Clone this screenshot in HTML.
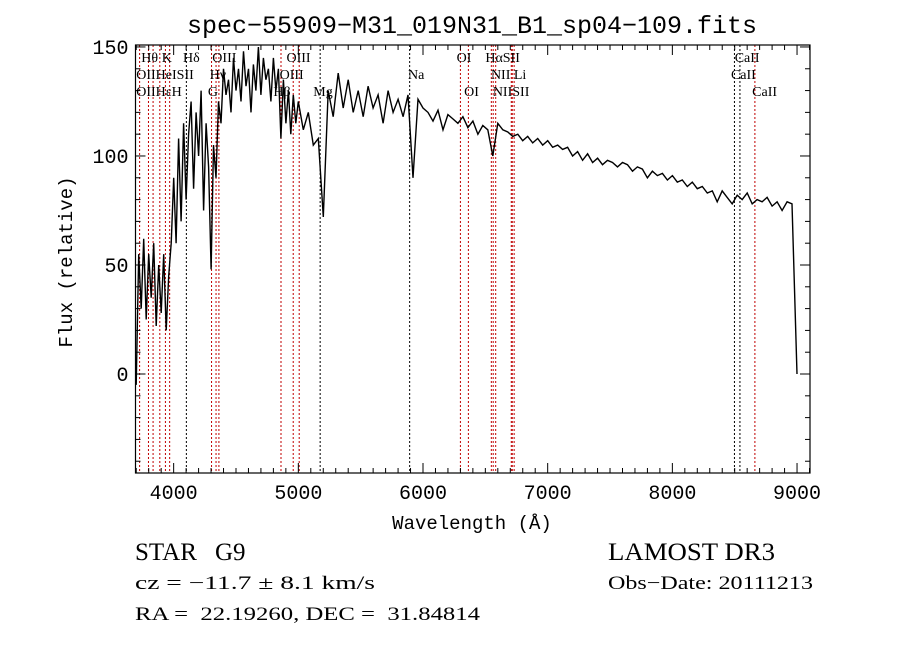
<!DOCTYPE html>
<html><head><meta charset="utf-8">
<style>
html,body{margin:0;padding:0;background:#fff;}
svg{display:block;}
.t{font-family:"Liberation Mono",monospace;fill:#000;}
.s{font-family:"Liberation Serif",serif;fill:#000;white-space:pre;}
</style></head>
<body>
<svg id="chart" width="900" height="649" viewBox="0 0 900 649" xmlns="http://www.w3.org/2000/svg">
<rect width="900" height="649" fill="#fff"/>
<text class="t" x="472" y="33" font-size="25" text-anchor="middle">spec−55909−M31_019N31_B1_sp04−109.fits</text>
<g id="lines"></g>
<g id="spec"></g>
<g id="axes"></g>
<text class="t" x="472" y="529" font-size="19" text-anchor="middle">Wavelength (Å)</text>
<text class="t" x="72" y="262" font-size="19" text-anchor="middle" transform="rotate(-90 72 262)">Flux (relative)</text>
<text class="s" x="135" y="560" font-size="25">STAR</text>
<text class="s" x="215" y="560" font-size="25">G9</text>
<text class="s" x="608" y="560" font-size="25" textLength="167" lengthAdjust="spacingAndGlyphs">LAMOST DR3</text>
<text class="s" x="135" y="589" font-size="19" textLength="240" lengthAdjust="spacingAndGlyphs">cz = −11.7 ± 8.1 km/s</text>
<text class="s" x="608" y="589" font-size="19" textLength="205" lengthAdjust="spacingAndGlyphs">Obs−Date: 20111213</text>
<text class="s" x="135" y="620" font-size="19" textLength="345" lengthAdjust="spacingAndGlyphs">RA =  22.19260, DEC =  31.84814</text>
</svg>
<script>
// spectrum data: blue segment start 3700 step 20, red segment start 5000 step 40
const blueStart = 3700, blueStep = 20;
const blueFlux = [
 -5,55,30,62,25,55,35,60,22,50,
 28,55,20,45,60,90,60,108,70,115,
 80,110,125,85,120,100,130,75,115,95,
 48,105,90,125,115,140,128,135,120,145,
 130,140,125,148,132,140,120,142,130,150,
 128,145,135,140,125,145,130,140,108,135,
 115,130,110,128,115];
const redStart = 5000, redStep = 40;
const redFlux = [
 125,112,120,105,108,72,130,118,138,122,
 135,120,130,118,132,122,128,115,130,120,
 126,118,128,90,126,122,120,116,121,112,
 119,117,115,118,113,116,110,114,112,100,
 115,112,111,109,110,107,109,106,108,105,
 107,104,105,103,104,100,102,98,101,97,
 99,96,98,97,95,97,96,93,95,94,
 90,93,91,92,89,91,88,89,86,88,
 85,86,83,84,79,84,81,78,82,80,
 83,78,80,79,81,77,79,75,79,78,
 0];
const lineWaves = [3727,3798,3835,3889,3934,3968,4102,4304,4340,4363,4861,4959,5007,5175,5893,6300,6364,6548,6563,6583,6708,6716,6731,8498,8542,8662];
const lineColors = ['r','r','r','r','r','r','k','r','r','r','r','r','r','k','k','r','r','r','r','r','r','r','r','k','k','r'];
const labelTexts = ['Hθ','K','Hδ','OIII','OIII','OI','HαSII','CaII',
                    'OIIHeISII','Hγ','OIII','Na','NII Li','CaII',
                    'OIIHεH','G','Hβ','Mg','OI','NIISII','CaII'];
const labelWaves = [3740,3905,4075,4310,4905,6270,6500,8500,
                    3700,4290,4850,5880,6545,8470,
                    3700,4275,4800,5120,6330,6560,8640];
const labelRows  = [0,0,0,0,0,0,0,0, 1,1,1,1,1,1, 2,2,2,2,2,2,2];
const xTicks = [4000,5000,6000,7000,8000,9000];
const yTicks = [0,50,100,150];

const L=135.5,R=810,T=45,B=473;
const xmin=3694,xmax=9104,ymin=-45.4,ymax=150.9;
const X=w=>L+(w-xmin)/(xmax-xmin)*(R-L);
const Y=f=>B-(f-ymin)/(ymax-ymin)*(B-T);
const NS='http://www.w3.org/2000/svg';
function mk(tag,attrs,parent){const e=document.createElementNS(NS,tag);for(const k in attrs)e.setAttribute(k,attrs[k]);parent.appendChild(e);return e;}

const lg=document.getElementById('lines');
lineWaves.forEach((w,i)=>{
  const l=mk('line',{x1:X(w),x2:X(w),y1:T,y2:B,stroke:lineColors[i]==='r'?'#c00000':'#000','stroke-width':1,'stroke-dasharray':'2,2'},lg);
  
  
});
labelTexts.forEach((s,i)=>{
  const t=mk('text',{x:X(labelWaves[i]),y:62+labelRows[i]*17,'font-size':14,'font-family':'"Liberation Serif",serif'},lg);
  t.textContent=s;
  
  
});

const sg=document.getElementById('spec');
let pts=[];
blueFlux.forEach((f,i)=>pts.push(X(blueStart+i*blueStep).toFixed(1)+','+Y(f).toFixed(1)));
redFlux.forEach((f,i)=>pts.push(X(redStart+i*redStep).toFixed(1)+','+Y(f).toFixed(1)));
const cp=mk('clipPath',{id:'clip'},sg);mk('rect',{x:L,y:T,width:R-L,height:B-T},cp);
const pl=mk('polyline',{points:pts.join(' '),fill:'none',stroke:'#000','stroke-width':1.4,'clip-path':'url(#clip)'},sg);



const ag=document.getElementById('axes');
const fr=mk('rect',{x:L,y:T,width:R-L,height:B-T,fill:'none',stroke:'#000','stroke-width':1.2},ag);


for(let w=3700;w<=9100;w+=100){
  const maj=w%1000===0, len=maj?10:5;
  mk('line',{x1:X(w),x2:X(w),y1:B,y2:B-len,stroke:'#000'},ag);
  mk('line',{x1:X(w),x2:X(w),y1:T,y2:T+len,stroke:'#000'},ag);
}
for(let f=-40;f<=150;f+=10){
  const maj=f%50===0, len=maj?10:5;
  mk('line',{x1:L,x2:L+len,y1:Y(f),y2:Y(f),stroke:'#000'},ag);
  mk('line',{x1:R,x2:R-len,y1:Y(f),y2:Y(f),stroke:'#000'},ag);
}
xTicks.forEach(v=>{
  const t=mk('text',{x:X(v),y:B+26,'font-size':20,'text-anchor':'middle',class:'t'},ag);
  t.textContent=v;
  
  
});
yTicks.forEach(v=>{
  const t=mk('text',{x:L-7,y:Y(v)+7,'font-size':20,'text-anchor':'end',class:'t'},ag);
  t.textContent=v;
  
  
});
</script>
</body></html>
